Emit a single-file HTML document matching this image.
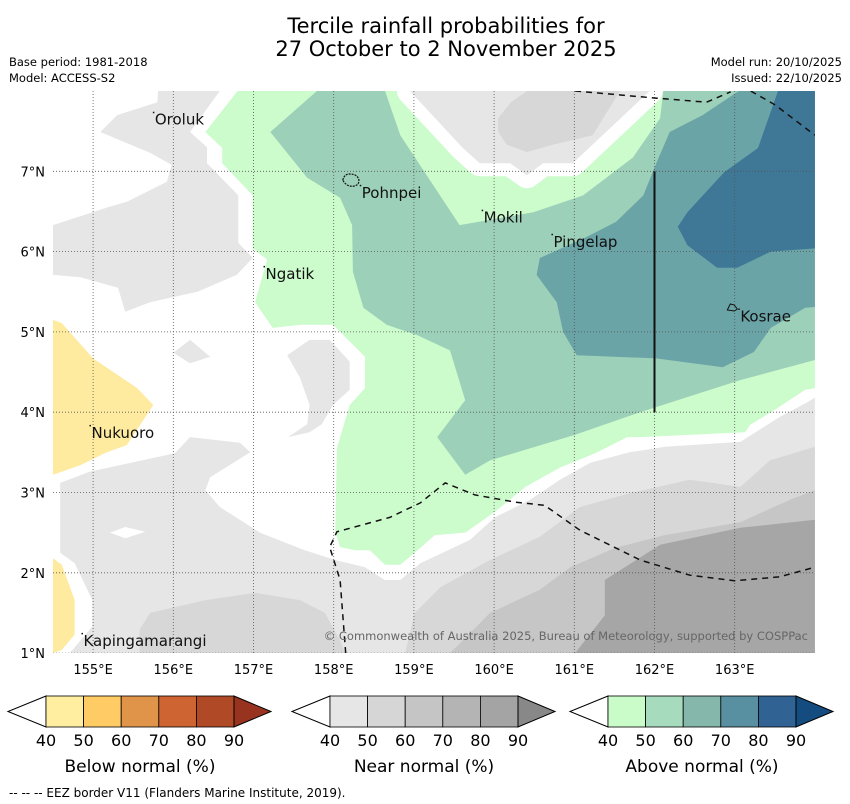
<!DOCTYPE html>
<html><head><meta charset="utf-8"><style>
body{margin:0;background:#fff;}
svg{display:block;font-family:"DejaVu Sans","Liberation Sans",sans-serif;}
</style></head><body>
<svg id="chart" width="850" height="804" viewBox="0 0 850 804">
<text x="446" y="33" text-anchor="middle" font-size="21">Tercile rainfall probabilities for</text>
<text x="446" y="56" text-anchor="middle" font-size="21">27 October to 2 November 2025</text>
<text x="9" y="66" font-size="11.5">Base period: 1981-2018</text>
<text x="9" y="82" font-size="11.5">Model: ACCESS-S2</text>
<text x="842" y="66" font-size="11.5" text-anchor="end">Model run: 20/10/2025</text>
<text x="842" y="82" font-size="11.5" text-anchor="end">Issued: 22/10/2025</text>
<defs><clipPath id="mapclip"><rect x="53" y="91" width="762" height="562"/></clipPath></defs>
<g id="map" clip-path="url(#mapclip)"></g>
<g id="axes"></g>
<g id="cbars"></g>
<text x="9" y="797" font-size="12">--  --  -- EEZ border V11 (Flanders Marine Institute, 2019).</text>
</svg>
<script>
const lonTicks=[155,156,157,158,159,160,161,162,163];
const latTicks=[1,2,3,4,5,6,7];
const greenAbove40=[[156.80,8],[164,8],[164,4.30],[163.88,4.28],[163.50,4.03],[163.19,3.84],[163.13,3.75],[161.82,3.69],[161.66,3.69],[161.26,3.49],[160.82,3.31],[160.39,3.07],[160.01,2.76],[159.64,2.50],[159.26,2.47],[159.01,2.25],[158.83,2.10],[158.64,2.10],[158.45,2.28],[158.27,2.28],[158.08,2.32],[158.02,2.51],[158.04,3.55],[158.20,4.09],[158.39,4.30],[158.39,4.69],[157.99,5.09],[157.58,5.09],[157.24,5.05],[157.02,5.37],[157.17,5.90],[156.99,6.04],[156.99,6.70],[156.61,7.10],[156.61,7.29],[156.40,7.49]];
const tealAbove50=[[157.79,8],[158.64,8],[158.83,7.45],[159.57,6.33],[160.49,6.49],[161.11,6.70],[161.73,7.17],[162.07,7.66],[162.11,8],[164,8],[164,4.65],[163.07,4.40],[161.82,4.00],[161.01,3.72],[159.95,3.40],[159.64,3.22],[159.29,3.69],[159.64,4.15],[159.45,4.77],[159.04,4.96],[158.66,5.09],[158.37,5.30],[158.24,5.75],[158.23,6.33],[158.08,6.67],[157.67,6.92],[157.21,7.49]];
const tealAbove60=[[163.05,8],[164,8],[164,5.31],[163.88,5.30],[163.45,5.05],[163.24,4.75],[162.85,4.56],[162.02,4.67],[161.03,4.71],[160.86,5.00],[160.78,5.37],[160.53,5.71],[160.57,5.92],[161.13,6.17],[161.52,6.37],[161.86,6.70],[162.03,7.12],[162.19,7.49],[162.60,7.70]];
const blueAbove70=[[163.54,8],[164,8],[164,6.04],[163.45,6.00],[163.03,5.80],[162.78,5.80],[162.41,6.08],[162.29,6.31],[162.41,6.49],[162.87,6.99],[163.29,7.29]];
const nearLeft40=[[155.81,8],[156.58,8],[156.21,7.49],[156.42,7.30],[156.42,7.10],[156.81,6.70],[156.81,6.11],[156.99,5.92],[156.79,5.71],[156.30,5.50],[155.71,5.37],[155.40,5.25],[155.31,5.55],[154.84,5.68],[154.5,5.71],[154.5,6.33],[155.21,6.56],[155.42,6.62],[155.92,6.87],[155.98,7.08],[155.71,7.23],[155.09,7.49],[155.30,7.70],[155.80,7.86]];
const nearMid40=[[157.42,4.71],[157.70,4.90],[157.95,4.90],[158.20,4.63],[158.20,4.28],[157.99,4.09],[157.85,3.85],[157.70,3.75],[157.43,3.69],[157.67,3.85],[157.70,4.09],[157.58,4.43]];
const nearSmall40=[[156.0,4.74],[156.21,4.90],[156.46,4.69],[156.21,4.61]];
const nearTop40=[[158.95,8],[159.61,7.29],[159.82,7.10],[160.20,7.10],[160.41,6.95],[160.61,7.10],[160.98,7.10],[161.94,8]];
const nearTop50=[[160.05,7.66],[160.21,7.86],[160.41,8],[161.57,8],[161.23,7.45],[160.73,7.33],[160.41,7.24],[160.16,7.33],[160.05,7.49]];
const nearBottom40=[[154.59,3.12],[154.96,3.26],[156.02,3.49],[156.21,3.69],[156.83,3.62],[156.96,3.50],[156.46,3.19],[156.40,3.03],[156.58,2.82],[157.08,2.50],[157.64,2.28],[158.02,2.16],[158.39,2.07],[158.64,1.91],[158.83,1.91],[159.08,2.12],[159.70,2.41],[160.01,2.69],[160.45,2.91],[160.82,3.16],[161.20,3.37],[161.69,3.50],[162.13,3.57],[163.07,3.63],[163.56,3.94],[163.88,4.11],[164,4.18],[164,1],[154.71,1],[154.99,1.33],[154.99,1.66],[154.77,2.12],[154.59,2.25]];
const gapOval=[[155.21,2.50],[155.40,2.57],[155.65,2.51],[155.40,2.43]];
const nearBL50=[[155.58,1],[155.58,1.29],[155.71,1.50],[156.40,1.66],[157.02,1.75],[157.58,1.66],[157.89,1.50],[158.08,1.16],[158.14,1]];
const nearBR50=[[158.89,1],[159.01,1.50],[159.33,1.82],[159.95,2.16],[160.57,2.45],[161.07,2.82],[161.69,2.99],[162.44,3.16],[163.07,3.07],[163.44,3.40],[164,3.57],[164,1]];
const nearBR60=[[159.45,1],[159.95,1.50],[160.57,1.79],[160.95,2.07],[161.51,2.31],[162.13,2.47],[163.07,2.63],[163.69,2.91],[164,3.03],[164,1]];
const nearBR70=[[161.01,1],[161.38,1.47],[161.38,1.91],[162.07,2.35],[163.07,2.56],[164,2.66],[164,1]];
const belowTop40=[[154.5,5.15],[154.61,5.11],[155.0,4.67],[155.55,4.30],[155.75,4.09],[155.42,3.59],[155.17,3.50],[154.84,3.34],[154.5,3.22]];
const belowBot40=[[154.5,2.18],[154.61,2.10],[154.77,1.66],[154.77,1.23],[154.61,1.04],[154.5,1]];
const eezTopA=[[161.01,8],[162.03,7.91],[162.65,7.86],[162.95,7.99]];
const eezTopB=[[163.20,8],[163.50,7.83],[164,7.45]];
const eezBottom=[[158.15,1],[158.08,1.91],[157.95,2.32],[158.04,2.51],[158.70,2.69],[159.08,2.87],[159.39,3.12],[159.76,2.97],[160.26,2.88],[160.63,2.84],[161.07,2.53],[161.82,2.16],[162.44,1.97],[163.0,1.90],[163.56,1.95],[164,2.07]];
const boundary162=[[162,7],[162,4]];
const islandNames=["Oroluk","Pohnpei","Mokil","Pingelap","Ngatik","Kosrae","Nukuoro","Kapingamarangi"];
const islandLon=[155.77,158.35,159.87,160.74,157.15,163.07,154.98,154.88];
const islandLat=[7.58,6.67,6.36,6.06,5.66,5.13,3.68,1.09];
const cbLevels=[40,50,60,70,80,90];
const belowColors=["#ffeda0","#fecb65","#e0944a","#cd6432","#b04a26","#983320"];
const nearColors=["#e6e6e6","#d6d6d6","#c5c5c5","#b4b4b4","#a4a4a4","#888888"];
const aboveColors=["#c9fcc9","#a6dcbd","#85b8ab","#5890a2","#306293","#154c80"];

const NS="http://www.w3.org/2000/svg";
const xS=lon=>53+(lon-154.5)*80.2;
const yS=lat=>91+(8-lat)*80.3;
function mk(tag,attrs,parent){const e=document.createElementNS(NS,tag);for(const k in attrs)e.setAttribute(k,attrs[k]);parent.appendChild(e);return e;}
const ptsStr=a=>a.map(p=>xS(p[0]).toFixed(1)+","+yS(p[1]).toFixed(1)).join(" ");
const map=document.getElementById("map");
mk("rect",{x:53,y:91,width:762,height:562,fill:"#fff"},map);
function poly(a,fill,name,extra){const e=mk("polygon",Object.assign({points:ptsStr(a),fill:fill},extra||{}),map);


return e;}
poly(greenAbove40,"#ccfbcc","above-normal-40-50");
poly(tealAbove50,"#9dd0b9","above-normal-50-60");
poly(tealAbove60,"#6ba4a6","above-normal-60-70");
poly(blueAbove70,"#3f7797","above-normal-70-80");
poly(nearLeft40,"#e6e6e6","near-normal-left-region");
poly(nearMid40,"#e6e6e6","near-normal-middle-blob");
poly(nearSmall40,"#e6e6e6","near-normal-small-blob");
poly(nearTop40,"#e6e6e6","near-normal-top-region",{stroke:"#fff","stroke-width":26,"paint-order":"stroke","stroke-linejoin":"round"});
poly(nearTop50,"#d7d7d7","near-normal-top-50");
poly(nearBottom40,"#e6e6e6","near-normal-bottom-region");
poly(gapOval,"#ffffff","white-gap-oval");
poly(nearBL50,"#d7d7d7","near-normal-bottom-left-50");
poly(nearBR50,"#d7d7d7","near-normal-bottom-right-50");
poly(nearBR60,"#c6c6c6","near-normal-bottom-right-60");
poly(nearBR70,"#a6a6a6","near-normal-bottom-right-70");
poly(belowTop40,"#feeb9f","below-normal-left-region");
poly(belowBot40,"#feeb9f","below-normal-bottom-region");
lonTicks.forEach(l=>{const e=mk("line",{x1:xS(l),x2:xS(l),y1:91,y2:653,stroke:"#555","stroke-width":0.8,"stroke-dasharray":"1,2"},map);

});
latTicks.forEach(l=>{const e=mk("line",{x1:53,x2:815,y1:yS(l),y2:yS(l),stroke:"#555","stroke-width":0.8,"stroke-dasharray":"1,2"},map);

});
function line(a,name,dash,w){const e=mk("polyline",{points:ptsStr(a),fill:"none",stroke:"#111","stroke-width":w,"stroke-dasharray":dash},map);

}
line(eezTopA,"eez-border-top-a","6,5",1.5);
line(eezTopB,"eez-border-top-b","6,5",1.5);
line(eezBottom,"eez-border-bottom","6,5",1.5);
line(boundary162,"boundary-162e","none",2);
const pX=xS(158.2),pY=yS(6.89);
const pohn=mk("path",{d:`M${pX-7},${pY} q2,-7 8,-6 q6,0 8,5 q1,6 -5,7 q-7,1 -11,-6z`,fill:"none",stroke:"#111","stroke-width":1.2,"stroke-dasharray":"2,1"},map);


const kX=xS(162.97),kY=yS(5.31);
const kos=mk("path",{d:`M${kX-5},${kY+3} l3,-6 l4,1 l3,4 l-3,2z`,fill:"none",stroke:"#111","stroke-width":1},map);


islandNames.forEach((n,i)=>{const t=mk("text",{x:xS(islandLon[i]),y:yS(islandLat[i]),"font-size":15,fill:"#111"},map);t.textContent=n;


const d=mk("rect",{x:xS(islandLon[i])-2,y:yS(islandLat[i])-13,width:1.5,height:1.5,fill:"#111"},map);

});
const cp=mk("text",{x:808,y:640,"font-size":11.5,fill:"#666","text-anchor":"end"},map);cp.textContent="© Commonwealth of Australia 2025, Bureau of Meteorology, supported by COSPPac";


const axes=document.getElementById("axes");
lonTicks.forEach(l=>{const t=mk("text",{x:xS(l),y:674,"font-size":13,"text-anchor":"middle"},axes);t.textContent=l+"°E";

});
latTicks.forEach(l=>{const t=mk("text",{x:45,y:yS(l)+5,"font-size":13,"text-anchor":"end"},axes);t.textContent=l+"°N";

});
const cb=document.getElementById("cbars");
function colorbar(x0,colors,title,name){const g=mk("g",{},cb);


const w=37.6,y0=696,h=31;
mk("polygon",{points:`${x0},${y0} ${x0-38},${y0+h/2} ${x0},${y0+h}`,fill:"#fff",stroke:"#000","stroke-width":1},g);
for(let i=0;i<5;i++)mk("rect",{x:x0+i*w,y:y0,width:w,height:h,fill:colors[i],stroke:"#000","stroke-width":0.8},g);
const xe=x0+5*w;
mk("polygon",{points:`${xe},${y0} ${xe+37},${y0+h/2} ${xe},${y0+h}`,fill:colors[5],stroke:"#000","stroke-width":1},g);
cbLevels.forEach((v,i)=>{const t=mk("text",{x:x0+i*w,y:746,"font-size":16,"text-anchor":"middle"},g);t.textContent=v;

});
const tt=mk("text",{x:x0+2.5*w,y:772,"font-size":17,"text-anchor":"middle"},g);tt.textContent=title;

}
colorbar(46,belowColors,"Below normal (%)","below-normal-colorbar");
colorbar(330,nearColors,"Near normal (%)","near-normal-colorbar");
colorbar(608,aboveColors,"Above normal (%)","above-normal-colorbar");
</script>
</body></html>
